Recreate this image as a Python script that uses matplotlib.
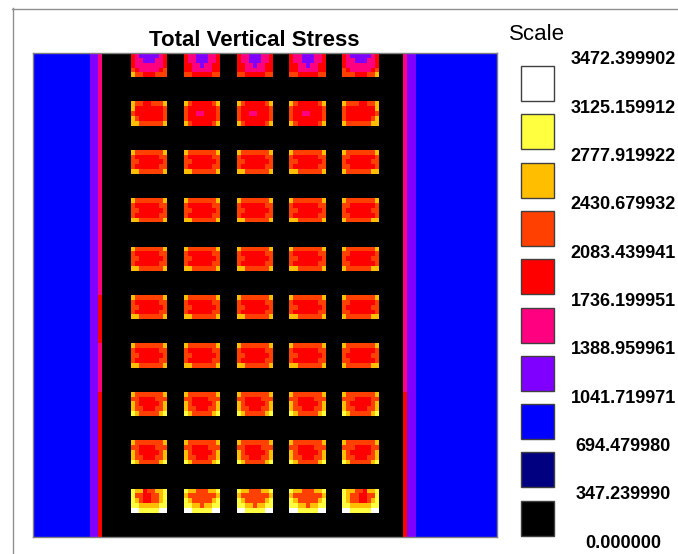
import matplotlib
matplotlib.use("Agg")
import matplotlib.pyplot as plt
import numpy as np
from matplotlib.colors import ListedColormap, BoundaryNorm
from matplotlib.patches import Rectangle
from matplotlib.lines import Line2D

plt.rcParams['font.family'] = ['Liberation Sans', 'DejaVu Sans']

# legend scale (top to bottom) and class colours (low to high)
scale_labels = ["3472.399902", "3125.159912", "2777.919922", "2430.679932",
                "2083.439941", "1736.199951", "1388.959961", "1041.719971",
                "694.479980", "347.239990", "0.000000"]
bounds = [float(s) for s in scale_labels[::-1]]
class_colors = ["#000000", "#000080", "#0000ff", "#8000ff", "#ff0080",
                "#ff0000", "#ff4000", "#ffbf00", "#ffff40", "#ffffff"]

# class index per cell: 0 black ... 9 white
pillar_top_edge = [[5, 4, 3, 3, 3, 3, 3, 4, 5],
                   [5, 4, 4, 3, 3, 3, 4, 4, 5],
                   [5, 4, 4, 4, 4, 4, 4, 4, 5],
                   [6, 5, 4, 4, 4, 4, 4, 5, 6],
                   [7, 6, 6, 5, 5, 5, 6, 6, 6]]
pillar_top_mid = [[5, 4, 4, 3, 3, 3, 4, 4, 5],
                  [5, 4, 4, 3, 3, 3, 4, 4, 5],
                  [5, 5, 4, 4, 3, 4, 4, 5, 5],
                  [5, 5, 4, 4, 4, 4, 4, 5, 5],
                  [6, 6, 5, 5, 5, 5, 5, 6, 6]]
pillar_r2_edge = [[7, 6, 6, 5, 5, 6, 6, 6, 7],
                  [7, 5, 5, 5, 5, 5, 5, 5, 6],
                  [6, 5, 5, 5, 5, 5, 5, 5, 6],
                  [7, 6, 5, 5, 5, 5, 5, 5, 6],
                  [7, 7, 6, 6, 6, 6, 6, 6, 7]]
pillar_r2_mid = [[7, 6, 5, 5, 5, 5, 5, 6, 7],
                 [6, 5, 5, 5, 5, 5, 5, 5, 6],
                 [6, 5, 5, 4, 4, 5, 5, 5, 6],
                 [6, 5, 5, 5, 5, 5, 5, 5, 6],
                 [7, 6, 5, 5, 5, 5, 5, 6, 7]]
pillar_mid = [[7, 6, 6, 6, 6, 6, 6, 6, 7],
              [6, 5, 5, 5, 5, 5, 5, 6, 6],
              [6, 6, 5, 5, 5, 5, 5, 5, 6],
              [6, 5, 5, 5, 5, 5, 5, 6, 6],
              [7, 7, 6, 6, 6, 6, 6, 6, 7]]
pillar_low = [[7, 6, 6, 6, 6, 6, 6, 6, 7],
              [6, 6, 5, 5, 5, 5, 6, 6, 6],
              [7, 6, 5, 5, 5, 5, 5, 6, 7],
              [7, 6, 6, 5, 5, 5, 6, 6, 7],
              [8, 7, 6, 6, 6, 6, 6, 7, 8]]
pillar_bot_edge = [[8, 7, 7, 5, 6, 6, 7, 7, 8],
                   [8, 6, 6, 5, 5, 6, 6, 7, 8],
                   [8, 7, 6, 5, 5, 6, 6, 7, 8],
                   [8, 8, 7, 7, 7, 7, 7, 8, 8],
                   [9, 9, 8, 8, 8, 8, 8, 9, 9]]
pillar_bot_mid = [[8, 7, 7, 6, 6, 6, 7, 7, 8],
                  [7, 6, 6, 6, 6, 6, 6, 6, 7],
                  [8, 7, 6, 6, 6, 6, 6, 7, 8],
                  [8, 8, 7, 7, 6, 7, 7, 8, 8],
                  [9, 9, 8, 8, 8, 8, 8, 9, 9]]

# pattern per pillar row (edge columns, middle columns)
row_patterns = [(pillar_top_edge, pillar_top_mid),
                (pillar_r2_edge, pillar_r2_mid),
                (pillar_mid, pillar_mid),
                (pillar_mid, pillar_mid),
                (pillar_mid, pillar_mid),
                (pillar_mid, pillar_mid),
                (pillar_mid, pillar_mid),
                (pillar_low, pillar_low),
                (pillar_low, pillar_low),
                (pillar_bot_edge, pillar_bot_mid)]

# side strips: class per pillar row
left_pink = [4, 4, 4, 4, 4, 5, 4, 5, 5, 5]
right_pink = [4, 4, 4, 4, 4, 4, 4, 5, 5, 5]

# grid layout (cells)
ncols, nrows = 114, 100
pillar_cols = [24, 37, 50, 63, 76]
pillar_rows = [0, 10, 20, 30, 40, 50, 60, 70, 80, 90]

grid = np.zeros((nrows, ncols), dtype=int)
grid[:, 0:14] = 2
grid[:, 14:16] = 3
grid[:, 92:94] = 3
grid[:, 94:] = 2
for k, r0 in enumerate(pillar_rows):
    grid[r0:r0 + 10, 16] = left_pink[k]
    grid[r0:r0 + 10, 91] = right_pink[k]
    edge, mid = row_patterns[k]
    for j, c0 in enumerate(pillar_cols):
        pat = edge if j in (0, len(pillar_cols) - 1) else mid
        pat = np.array(pat)
        if j == len(pillar_cols) - 1:
            pat = pat[:, ::-1]
        grid[r0:r0 + 5, c0:c0 + 9] = pat

mids = np.array([(bounds[i] + bounds[i + 1]) / 2 for i in range(10)])
stress = mids[grid]

cmap = ListedColormap(class_colors)
norm = BoundaryNorm(bounds, cmap.N)

W, H = 678, 554
fig = plt.figure(figsize=(W / 100, H / 100), dpi=100)
fig.patch.set_facecolor("white")

ax = fig.add_axes([33 / W, 1 - 537 / H, 464 / W, 484 / H])
ax.imshow(stress, cmap=cmap, norm=norm, aspect="auto", interpolation="nearest")
ax.set_xticks([])
ax.set_yticks([])
for s in ax.spines.values():
    s.set_color("#808080")
    s.set_linewidth(1)

# overlay axes in pixel units for text & legend
lg = fig.add_axes([0, 0, 1, 1])
lg.set_xlim(0, W)
lg.set_ylim(H, 0)
lg.axis("off")
lg.text(254, 40, "Total Vertical Stress", ha="center", va="center",
        fontsize=16, fontweight="bold", color="#000000")
lg.text(509, 35, "Scale", ha="left", va="center", fontsize=16, color="#000000")

box_top = 66
pitch = 48.3
for i, col in enumerate(class_colors[::-1]):
    y = box_top + i * pitch
    lg.add_patch(Rectangle((521, y), 33, 35, facecolor=col,
                           edgecolor="#404040", linewidth=1))
for i, lab in enumerate(scale_labels):
    lg.text(623, box_top - 6 + i * pitch, lab, ha="center", va="center",
            fontsize=13, fontweight="bold", color="#000000")

# outer frame lines
lg.add_line(Line2D([12, W], [8.5, 8.5], color="#909090", lw=1))
lg.add_line(Line2D([12.5, 12.5], [8, H], color="#909090", lw=1))

fig.savefig("out.png", dpi=100)
